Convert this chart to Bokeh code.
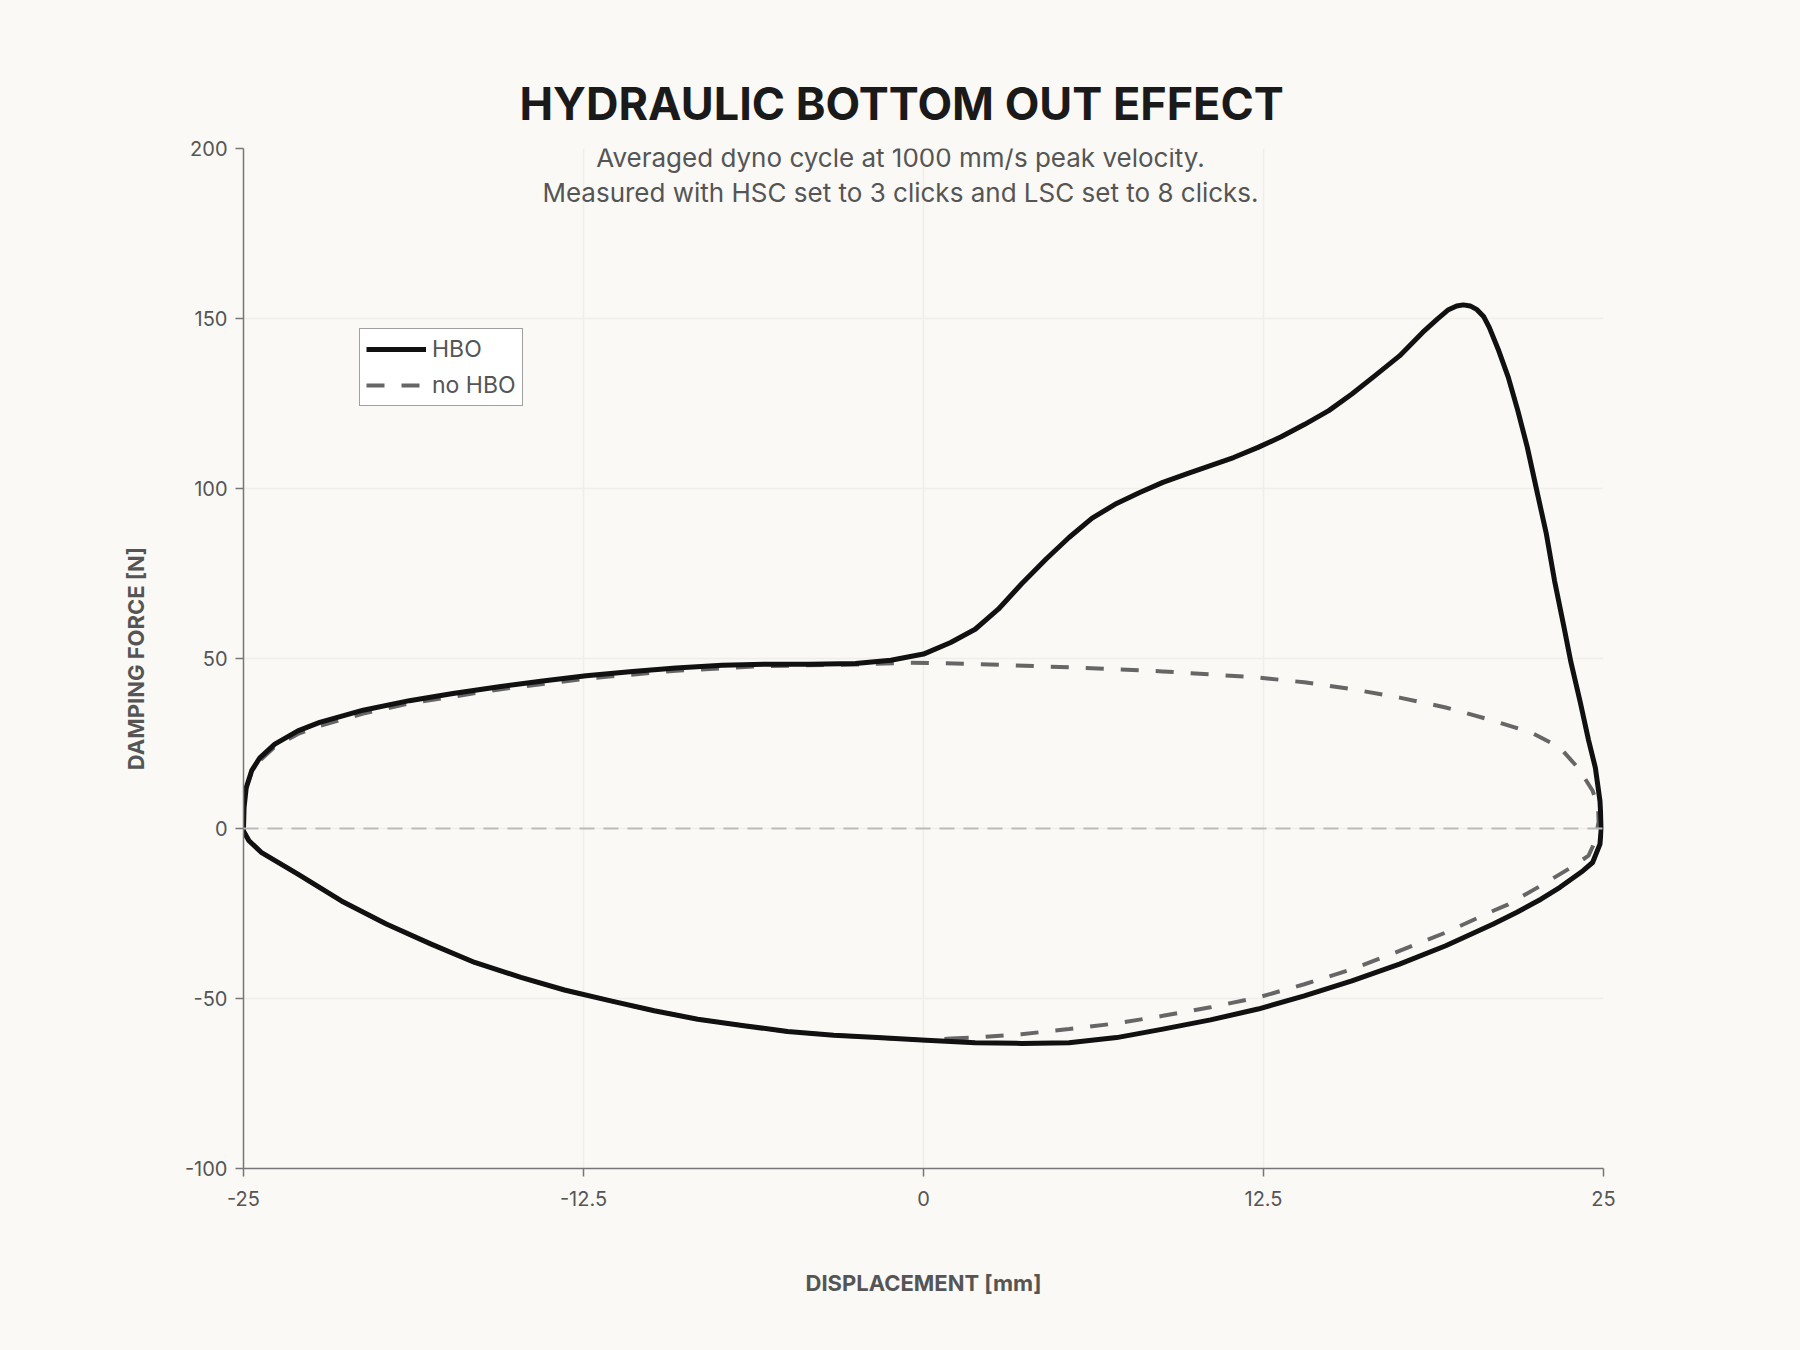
from bokeh.plotting import figure
from bokeh.models import (Range1d, FixedTicker, Span, Label, Legend, LegendItem, Title)
from bokeh.embed import file_html
from bokeh.resources import INLINE

# ---------------- data ----------------
title_text = "HYDRAULIC BOTTOM OUT EFFECT"
subtitle_lines = ["Averaged dyno cycle at 1000 mm/s peak velocity.",
                  "Measured with HSC set to 3 clicks and LSC set to 8 clicks."]
x_axis_title = "DISPLACEMENT [mm]"
y_axis_title = "DAMPING FORCE [N]"

x_ticks = [-25, -12.5, 0, 12.5, 25]
x_tick_labels = ["-25", "-12.5", "0", "12.5", "25"]
y_ticks = [-100, -50, 0, 50, 100, 150, 200]
y_tick_labels = ["-100", "-50", "0", "50", "100", "150", "200"]

series_names = ["HBO", "no HBO"]

# HBO cycle: displacement (mm) and damping force (N)
hbo_disp = [-25.0, -24.98, -24.9, -24.7, -24.4, -23.85, -23.0, -22.2, -20.6, -18.9,
            -17.3, -15.6, -14.0, -12.4, -10.7, -9.1, -7.4, -5.8, -4.2, -2.5,
            -1.2, 0.0, 1.0, 1.9, 2.75, 3.6, 4.5, 5.35, 6.2, 7.1,
            7.95, 8.8, 9.7, 10.55, 11.4, 12.3, 13.15, 14.0, 14.9, 15.75,
            16.6, 17.5, 18.35, 18.9, 19.3, 19.6, 19.85, 20.1, 20.35, 20.6, 20.8,
            21.15, 21.5, 21.85,
            22.2, 22.55, 22.9, 23.2, 23.55, 23.8, 24.15, 24.45, 24.7, 24.87,
            24.92, 24.87, 24.6, 24.25, 23.4, 22.7, 21.8, 20.95, 19.2, 17.5,
            15.75, 14.0, 12.3, 10.55, 8.8, 7.1, 5.35, 3.6, 1.9, 0.1,
            -1.7, -3.3, -5.0, -6.6, -8.3, -9.9, -11.5, -13.2, -14.8, -16.5,
            -18.1, -19.75, -21.4, -23.0, -24.35, -24.8, -25.0, -25.0]
hbo_force = [0.0, 6.0, 12.0, 17.0, 20.8, 24.8, 28.7, 31.2, 34.8, 37.6,
             39.7, 41.7, 43.4, 44.9, 46.2, 47.2, 48.0, 48.3, 48.3, 48.5,
             49.5, 51.3, 54.7, 58.6, 64.5, 71.9, 79.2, 85.6, 91.3, 95.6,
             98.8, 101.8, 104.4, 106.7, 109.1, 112.1, 115.2, 118.8, 122.9, 127.8,
             133.2, 139.0, 145.9, 149.9, 152.6, 153.7, 154.0, 153.7, 152.6, 150.5, 147.4,
             140.5, 132.7, 122.9,
             112.1, 99.3, 86.6, 72.9, 59.1, 49.0, 37.0, 26.0, 17.9, 8.1,
             0.3, -4.6, -10.0, -12.4, -17.3, -20.8, -24.7, -28.1, -34.5, -39.9,
             -44.8, -49.2, -53.1, -56.3, -59.0, -61.5, -63.0, -63.2, -63.0, -62.3,
             -61.5, -60.8, -59.7, -58.0, -56.1, -53.6, -50.7, -47.5, -43.8, -39.4,
             -34.0, -28.1, -21.3, -13.4, -7.0, -3.6, -0.7, 0.0]

# no HBO cycle
nohbo_disp = [1.0, 1.9, 3.6, 5.35, 7.1, 8.8, 10.55, 12.3, 14.0, 15.75,
              17.5, 19.2, 20.95, 21.5, 22.7, 23.8, 24.45, 24.7, 24.82, 24.8,
              24.6, 24.1, 23.4, 22.35, 20.95, 19.2, 17.5, 15.75, 14.0, 12.3,
              8.8, 5.35, 1.9, -0.55, -2.5, -5.8, -9.1, -12.4, -15.6, -18.9,
              -20.6, -22.2, -23.0, -23.85, -24.4, -24.7, -24.9, -25.0, -25.0,
              -24.8, -24.35, -23.0, -21.4, -19.75, -18.1, -16.5, -14.8, -13.2, -11.5,
              -9.9, -8.3, -6.6, -5.0, -3.3, -1.7, 0.1, 1.0]
nohbo_force = [-61.8, -61.5, -60.5, -59.0, -57.3, -55.1, -52.6, -49.7, -45.8, -41.4,
               -36.0, -30.6, -24.2, -22.3, -16.8, -11.5, -8.0, -3.6, 2.0, 6.5,
               11.1, 17.5, 23.8, 28.2, 31.7, 35.6, 38.5, 41.0, 43.0, 44.4,
               46.2, 47.4, 48.4, 48.8, 48.2, 47.8, 46.4, 44.1, 40.9, 36.8,
               33.8, 30.2, 27.8, 24.0, 20.0, 16.5, 12.0, 5.0, 0.0,
               -3.6, -7.0, -13.4, -21.3, -28.1, -34.0, -39.4, -43.8, -47.5, -50.7,
               -53.6, -56.1, -58.0, -59.7, -60.8, -61.5, -62.3, -61.8]

# ---------------- style ----------------
BG = "#FAF9F5"
FONT = "Inter"

p = figure(width=1784, height=1334, output_backend="svg", toolbar_location=None,
           x_range=Range1d(-25, 25), y_range=Range1d(-100, 200),
           min_border_left=243, min_border_right=181,
           min_border_top=148, min_border_bottom=166)
p.background_fill_color = BG
p.border_fill_color = BG
p.outline_line_color = None

# title
p.title = Title(text=title_text, align="left", offset=276, standoff=36,
                text_font=FONT, text_font_size="45px", text_font_style="bold",
                text_color="#1A1A1A")

# axes
for ax in (p.xaxis[0], p.yaxis[0]):
    ax.axis_line_color = "#777777"
    ax.axis_line_width = 1.5
    ax.major_tick_line_color = "#777777"
    ax.major_tick_line_width = 1.5
    ax.major_tick_out = 8
    ax.major_tick_in = 0
    ax.minor_tick_line_color = None
    ax.major_label_text_font = FONT
    ax.major_label_text_font_size = "20px"
    ax.major_label_text_color = "#555555"
    ax.axis_label_text_font = FONT
    ax.axis_label_text_font_size = "22px"
    ax.axis_label_text_font_style = "bold"
    ax.axis_label_text_color = "#555555"

p.xaxis.ticker = FixedTicker(ticks=x_ticks)
p.xaxis.major_label_overrides = dict(zip(x_ticks, x_tick_labels))
p.yaxis.ticker = FixedTicker(ticks=y_ticks)
p.yaxis.major_label_overrides = dict(zip(y_ticks, y_tick_labels))
p.xaxis.axis_label = x_axis_title
p.yaxis.axis_label = y_axis_title
p.xaxis.major_label_standoff = 14
p.yaxis.major_label_standoff = 8
p.xaxis.axis_label_standoff = 61
p.yaxis.axis_label_standoff = 33

p.xgrid.grid_line_color = "#EFEEEA"
p.ygrid.grid_line_color = "#EFEEEA"
p.xgrid.grid_line_width = 1.5
p.ygrid.grid_line_width = 1.5

# zero line
p.add_layout(Span(location=0, dimension="width", line_color="#BBBBBB",
                  line_width=2, line_dash="15 9"))

# curves
r_no = p.line(nohbo_disp, nohbo_force, line_color="#666666", line_width=4,
              line_dash="18 17")
r_hbo = p.line(hbo_disp, hbo_force, line_color="#111111", line_width=5,
               line_join="round")

legend = Legend(items=[LegendItem(label=series_names[0], renderers=[r_hbo]),
                       LegendItem(label=series_names[1], renderers=[r_no])],
                location=(116, 762))
legend.background_fill_color = "#FFFFFF"
legend.background_fill_alpha = 1.0
legend.border_line_color = "#444444"
legend.border_line_width = 1.5
legend.label_text_font = FONT
legend.label_text_font_size = "23px"
legend.label_text_color = "#555555"
legend.glyph_width = 60
legend.glyph_height = 26
legend.label_height = 26
legend.label_standoff = 6
legend.spacing = 8
legend.padding = 6
legend.margin = 0
p.add_layout(legend, "center")

# subtitle (screen units relative to the plot frame)
sub_y = [1011, 976]
for line, yy in zip(subtitle_lines, sub_y):
    p.add_layout(Label(x=657, y=yy, x_units="screen", y_units="screen",
                       text=line, text_font=FONT, text_font_size="26px",
                       text_color="#555555",
                       text_align="center", text_baseline="middle"))

html = file_html(p, INLINE)
html = html.replace("<head>", "<head><style>body{background:%s;}</style>" % BG, 1)
open("out.html", "w").write(html)
